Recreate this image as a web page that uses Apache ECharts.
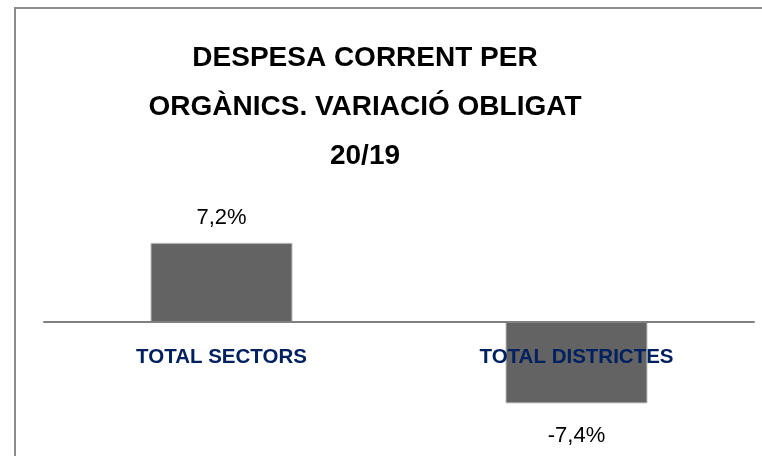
<!DOCTYPE html>
<html>
<head>
<meta charset="utf-8">
<script src="https://cdn.jsdelivr.net/npm/echarts@6/dist/echarts.min.js"></script>
<style>
  html, body { margin: 0; padding: 0; background: #fff; }
  #grafico { width: 762px; height: 456px; }
</style>
</head>
<body>
<div id="grafico"></div>
<script>
// Datos
const titulo = 'DESPESA CORRENT PER\nORGÀNICS. VARIACIÓ OBLIGAT\n20/19';
const categorias = ['TOTAL SECTORS', 'TOTAL DISTRICTES'];
const variacion = [7.2, -7.4];

// etiqueta tipo "7,2%"
function formatoPct(v) {
    return v.toFixed(1).replace('.', ',') + '%';
}

function crearGrafico(data) {
    return {
        backgroundColor: '#fff',
        animation: false,
        title: {
            text: titulo,
            left: 360,
            textAlign: 'center',
            top: 29,
            textStyle: {
                fontFamily: '"Liberation Sans", sans-serif',
                fontWeight: 'bold',
                fontSize: 28,
                lineHeight: 49,
                color: '#000'
            }
        },
        // marco del gráfico
        graphic: [{
            type: 'rect',
            shape: { x: 15, y: 8, width: 800, height: 500 },
            style: { fill: 'none', stroke: '#8c8c8c', lineWidth: 2 },
            silent: true
        }],
        grid: { left: 44, right: 8, top: 212, height: 220, outerBoundsMode: 'none', containLabel: false },
        xAxis: {
            type: 'category',
            data: categorias,
            z: 5,
            axisLine: { onZero: true, lineStyle: { color: '#808080', width: 2 } },
            axisTick: { show: false },
            axisLabel: {
                margin: -85,
                color: '#002060',
                fontWeight: 'bold',
                fontSize: 20.5,
                fontFamily: '"Liberation Sans", sans-serif'
            }
        },
        yAxis: {
            type: 'value',
            min: -10,
            max: 10,
            show: false,
            splitLine: { show: false }
        },
        series: [{
            type: 'bar',
            // la etiqueta negativa queda un poco más separada de la barra
            data: data.map(v => ({ value: v, label: { distance: v < 0 ? 22 : 14 } })),
            barWidth: '40%',
            itemStyle: { color: '#636363', borderColor: '#bfbfbf', borderWidth: 1 },
            label: {
                show: true,
                position: 'outside',
                formatter: p => formatoPct(p.value),
                color: '#000',
                fontSize: 22,
                fontFamily: '"Liberation Sans", sans-serif'
            }
        }]
    };
}

const chartDom = document.getElementById('grafico');
const myChart = echarts.init(chartDom, null, { renderer: 'canvas' });
myChart.setOption(crearGrafico(variacion));
</script>
</body>
</html>
